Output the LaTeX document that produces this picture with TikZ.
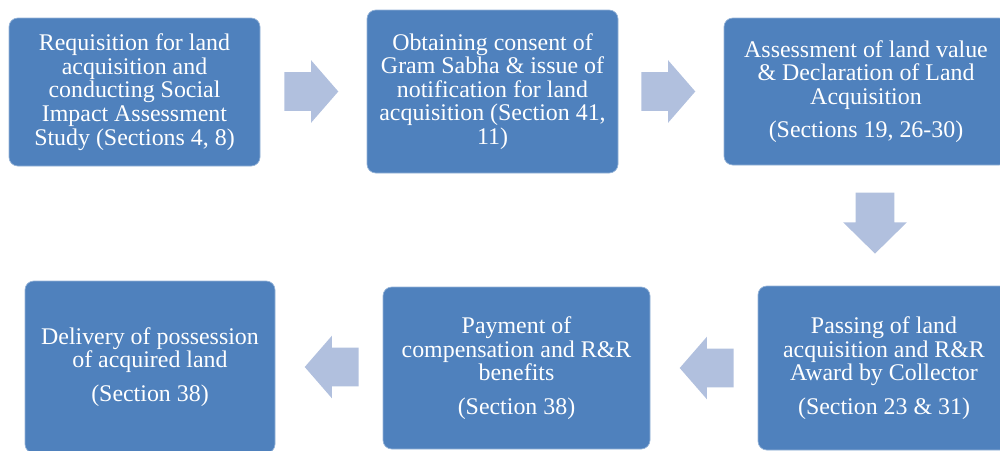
\documentclass[tikz,border=0pt]{standalone}
\usepackage{fontspec}
\setmainfont{Liberation Serif}
\usetikzlibrary{shapes.arrows,calc}
\definecolor{boxblue}{RGB}{79,129,189}
\definecolor{arrowblue}{RGB}{177,192,222}
\begin{document}
\begin{tikzpicture}[
    stepbox/.style={rectangle, rounded corners=0.22cm, fill=boxblue, draw=boxblue!60!white,
      line width=0.5pt, text=white, align=center, inner sep=0pt,
      font=\fontsize{17}{16.8}\selectfont},
    blockarrow/.style={single arrow, fill=arrowblue, draw=none, inner xsep=0pt,
      inner ysep=0.475cm, single arrow head extend=0.3cm, minimum height=1.35cm,
      single arrow tip angle=98, anchor=tip}
  ]
  \useasboundingbox (0,0) rectangle (25,-11.25);
  \clip (0,0) rectangle (25,-11.25);

  % top row
  \node[stepbox, minimum width=6.275cm, minimum height=3.7cm] (r1) at (3.3625,-2.3)
    {Requisition for land\\acquisition and\\conducting Social\\Impact Assessment\\Study (Sections 4, 8)};
  \node[stepbox, minimum width=6.275cm, minimum height=4.075cm] (r2) at (12.3125,-2.2875)
    {Obtaining consent of\\Gram Sabha \& issue of\\notification for land\\acquisition (Section 41,\\11)};
  \node[stepbox, minimum width=7.1cm, minimum height=3.675cm] (r3) at (21.65,-2.2875)
    {Assessment of land value\\\& Declaration of Land\\Acquisition\\[7pt](Sections 19, 26-30)};

  % bottom row
  \node[stepbox, minimum width=6.3cm, minimum height=4.1cm] (r6) at (22.1,-9.2)
    {Passing of land\\acquisition and R\&R\\Award by Collector\\[7pt](Section 23 \& 31)};
  \node[stepbox, minimum width=6.675cm, minimum height=4.05cm] (r5) at (12.9125,-9.2)
    {Payment of\\compensation and R\&R\\benefits\\[7pt](Section 38)};
  \node[stepbox, minimum width=6.25cm, minimum height=4.3cm] (r4) at (3.75,-9.175)
    {Delivery of possession\\of acquired land\\[7pt](Section 38)};

  % arrows
  \node[blockarrow] (a12) at ($(r2.west)+(-0.7,0)$) {};
  \node[blockarrow] (a23) at ($(r3.west)+(-0.7,0)$) {};
  \node[blockarrow, shape border rotate=270, inner xsep=0.475cm, inner ysep=0pt,
    single arrow head extend=0.3125cm, minimum height=1.525cm, single arrow tip angle=91]
    (a36) at ($(r3.south)!0.5!(r6.north)+(0,-0.7125)$) {};
  \node[blockarrow, shape border rotate=180] (a65) at ($(r5.east)+(0.725,0)$) {};
  \node[blockarrow, shape border rotate=180] (a54) at ($(r4.east)+(0.725,0)$) {};
\end{tikzpicture}
\end{document}
